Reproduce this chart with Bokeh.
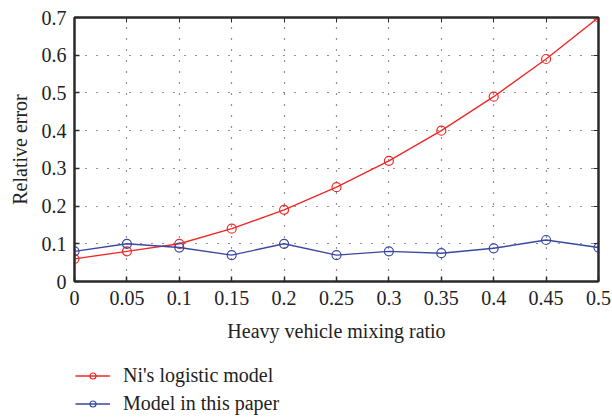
from bokeh.plotting import figure
from bokeh.layouts import column
from bokeh.models import (LinearAxis, Legend, LegendItem, FixedTicker, Range1d,
                          CustomJSTickFormatter)
from bokeh.embed import file_html
from bokeh.resources import INLINE

ratio = [0, 0.05, 0.1, 0.15, 0.2, 0.25, 0.3, 0.35, 0.4, 0.45, 0.5]
ni_model = [0.06, 0.08, 0.10, 0.14, 0.19, 0.25, 0.32, 0.40, 0.49, 0.59, 0.70]
this_model = [0.08, 0.10, 0.09, 0.07, 0.10, 0.07, 0.08, 0.075, 0.088, 0.11, 0.09]
x_ticks = [0, 0.05, 0.1, 0.15, 0.2, 0.25, 0.3, 0.35, 0.4, 0.45, 0.5]
x_labels = ["0", "0.05", "0.1", "0.15", "0.2", "0.25", "0.3", "0.35", "0.4", "0.45", "0.5"]
y_ticks = [0, 0.1, 0.2, 0.3, 0.4, 0.5, 0.6, 0.7]
y_labels = ["0", "0.1", "0.2", "0.3", "0.4", "0.5", "0.6", "0.7"]
series_names = ["Ni's logistic model", "Model in this paper"]

FONT = "Liberation Serif"
RED = "#f02828"
BLUE = "#3a48a0"
AX = "#2a2a2a"
TXT = "#222222"

p = figure(frame_width=524, frame_height=264, output_backend="svg", toolbar_location=None,
           x_range=Range1d(0, 0.5), y_range=Range1d(0, 0.7),
           min_border_left=74, min_border_right=14, min_border_top=17, min_border_bottom=74,
           x_axis_label="Heavy vehicle mixing ratio", y_axis_label="Relative error")
p.background_fill_color = "white"
p.border_fill_color = "white"
p.outline_line_color = AX
p.outline_line_width = 2

for ax in (p.xaxis[0], p.yaxis[0]):
    ax.axis_line_color = AX
    ax.axis_line_width = 2
    ax.major_tick_in = 5
    ax.major_tick_out = 0
    ax.minor_tick_line_color = None
    ax.major_tick_line_color = AX
    ax.major_tick_line_width = 1.5
    ax.major_label_text_font = FONT
    ax.major_label_text_font_size = "20px"
    ax.major_label_text_color = TXT
    ax.axis_label_text_font = FONT
    ax.axis_label_text_font_size = "20px"
    ax.axis_label_text_font_style = "normal"
    ax.axis_label_text_color = TXT

p.xaxis[0].ticker = FixedTicker(ticks=x_ticks)
p.xaxis[0].major_label_overrides = {t: l for t, l in zip(x_ticks, x_labels)}
p.xaxis[0].major_label_standoff = 9
p.xaxis[0].axis_label_standoff = 12
p.yaxis[0].ticker = FixedTicker(ticks=y_ticks)
p.yaxis[0].major_label_overrides = {t: l for t, l in zip(y_ticks, y_labels)}
p.yaxis[0].major_label_standoff = 8
p.yaxis[0].axis_label_standoff = 8

blank = CustomJSTickFormatter(code="return ''")
top = LinearAxis(ticker=FixedTicker(ticks=x_ticks), formatter=blank,
                 major_tick_in=5, major_tick_out=0, minor_tick_line_color=None,
                 axis_line_color=AX, axis_line_width=2, major_tick_line_color=AX,
                 major_label_standoff=0)
right = LinearAxis(ticker=FixedTicker(ticks=y_ticks), formatter=blank,
                   major_tick_in=5, major_tick_out=0, minor_tick_line_color=None,
                   axis_line_color=AX, axis_line_width=2, major_tick_line_color=AX,
                   major_label_standoff=0)
p.add_layout(top, "above")
p.add_layout(right, "right")

p.xgrid.ticker = FixedTicker(ticks=x_ticks)
p.ygrid.ticker = FixedTicker(ticks=y_ticks)
for g in (p.xgrid[0], p.ygrid[0]):
    g.grid_line_color = "#222222"
    g.grid_line_dash = "1 10"
    g.grid_line_width = 1.2

p.line(ratio, ni_model, line_color=RED, line_width=1.4)
p.scatter(ratio, ni_model, marker="circle", size=9, fill_color=None, line_color=RED, line_width=1.2)
p.line(ratio, this_model, line_color=BLUE, line_width=1.4)
p.scatter(ratio, this_model, marker="circle", size=9, fill_color=None, line_color=BLUE, line_width=1.2)

# legend panel below the chart (its renderers only supply the legend glyphs; their
# single point lies outside the visible range)
p2 = figure(width=612, height=62, output_backend="svg", toolbar_location=None,
            x_range=Range1d(0, 1), y_range=Range1d(0, 1),
            x_axis_type=None, y_axis_type=None, min_border=0)
p2.outline_line_color = None
p2.grid.visible = False
hidden = [-10]
l1 = p2.line(hidden, hidden, line_color=RED, line_width=1.4)
m1 = p2.scatter(hidden, hidden, marker="circle", size=6, fill_color=None, line_color=RED, line_width=1.2)
l2 = p2.line(hidden, hidden, line_color=BLUE, line_width=1.4)
m2 = p2.scatter(hidden, hidden, marker="circle", size=6, fill_color=None, line_color=BLUE, line_width=1.2)
legend = Legend(items=[LegendItem(label=series_names[0], renderers=[l1, m1]),
                       LegendItem(label=series_names[1], renderers=[l2, m2])],
                orientation="vertical", location=(1, 2),
                border_line_color=None, background_fill_alpha=0,
                label_text_font=FONT, label_text_font_size="20px", label_text_color=TXT,
                glyph_width=35, glyph_height=15, label_height=20, spacing=5, padding=0, margin=0,
                label_standoff=13)
p2.add_layout(legend, "center")

layout = column(p, p2, spacing=0)
open("out.html", "w").write(file_html(layout, INLINE))
